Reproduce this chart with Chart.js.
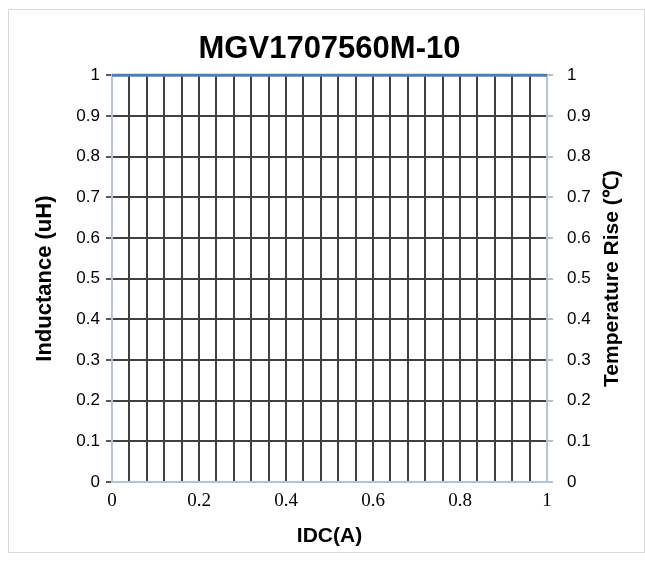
<!DOCTYPE html>
<html>
<head>
<meta charset="utf-8">
<script src="https://cdn.jsdelivr.net/npm/chart.js@4"></script>
<style>
  html, body { margin: 0; padding: 0; background: #fff; }
  #wrap { position: relative; width: 645px; height: 563px; }
</style>
</head>
<body>
<div id="wrap"><canvas id="c" width="645" height="563"></canvas></div>
<script>
// ---- data ----
const chartTitle = 'MGV1707560M-10';
const xAxisTitle = 'IDC(A)';
const leftAxisTitle = 'Inductance (uH)';
const rightAxisTitle = 'Temperature Rise (℃)';
const seriesX = [0, 1];
const seriesY = [1, 1];
const xTickLabels = ['0', '0.2', '0.4', '0.6', '0.8', '1'];
const yTickLabels = ['0', '0.1', '0.2', '0.3', '0.4', '0.5', '0.6', '0.7', '0.8', '0.9', '1'];
const xMin = 0, xMax = 1, xGridStep = 0.04, xLabelEvery = 5;
const yMin = 0, yMax = 1, yStep = 0.1;

const GRID = '#404040';
const AXIS = '#b4c4d9';
const AXIS_TITLE_FONT = { family: 'Liberation Sans', size: 21, weight: 'bold' };

const framePlugin = {
  id: 'frame',
  beforeDraw(chart) {
    const ctx = chart.ctx;
    ctx.save();
    ctx.fillStyle = '#fff';
    ctx.fillRect(0, 0, chart.width, chart.height);
    ctx.strokeStyle = '#d9d9d9';
    ctx.lineWidth = 1;
    ctx.strokeRect(8.5, 9.5, 636, 543);
    ctx.restore();
  },
  afterDraw(chart) {
    // right axis title, reading bottom-to-top like the left one
    const ctx = chart.ctx;
    const a = chart.chartArea;
    ctx.save();
    ctx.translate(612, (a.top + a.bottom) / 2);
    ctx.rotate(-Math.PI / 2);
    ctx.fillStyle = '#000';
    ctx.font = 'bold ' + AXIS_TITLE_FONT.size + 'px "' + AXIS_TITLE_FONT.family + '"';
    ctx.textAlign = 'center';
    ctx.textBaseline = 'middle';
    ctx.fillText(rightAxisTitle, 0, 0);
    ctx.restore();
  }
};

const edge = (ctx, lo, hi) => {
  const v = ctx.tick ? ctx.tick.value : null;
  if (v === null) return GRID;
  return (Math.abs(v - lo) < 1e-9 || Math.abs(v - hi) < 1e-9) ? 'rgba(0,0,0,0)' : GRID;
};

new Chart(document.getElementById('c'), {
  type: 'scatter',
  data: {
    datasets: [{
      label: 'Inductance',
      data: seriesX.map((x, i) => ({ x: x, y: seriesY[i] })),
      showLine: true,
      borderColor: '#4a7ebb',
      backgroundColor: '#4a7ebb',
      borderWidth: 3,
      pointRadius: 0,
      clip: false,
      yAxisID: 'y'
    }]
  },
  options: {
    responsive: false,
    animation: false,
    layout: { padding: 0 },
    plugins: {
      legend: { display: false },
      tooltip: { enabled: false },
      title: {
        display: true,
        fullSize: false,
        text: chartTitle,
        color: '#000',
        font: { family: 'Liberation Sans', size: 31, weight: 'bold' },
        padding: { top: 31, bottom: 7 }
      }
    },
    scales: {
      x: {
        type: 'linear',
        position: 'bottom',
        min: xMin, max: xMax,
        afterFit: s => { s.height = 81; },
        ticks: {
          stepSize: xGridStep,
          maxTicksLimit: 40,
          autoSkip: false,
          maxRotation: 0,
          padding: 8,
          color: '#000',
          font: { family: 'Liberation Serif', size: 19 },
          callback: (v, i) => (i % xLabelEvery === 0 ? xTickLabels[i / xLabelEvery] : '')
        },
        grid: {
          color: c => edge(c, xMin, xMax),
          lineWidth: 2,
          drawTicks: false
        },
        border: { color: AXIS, width: 2 },
        title: {
          display: true,
          text: xAxisTitle,
          color: '#000',
          font: AXIS_TITLE_FONT,
          padding: { top: 0, bottom: 14 }
        }
      },
      y: {
        type: 'linear',
        position: 'left',
        min: yMin, max: yMax,
        afterFit: s => { s.width = 112; },
        ticks: {
          stepSize: yStep,
          padding: 6,
          color: '#000',
          font: { family: 'Liberation Sans', size: 17 },
          callback: (v, i) => yTickLabels[i]
        },
        grid: {
          color: c => edge(c, yMin, yMax),
          lineWidth: 2,
          tickColor: '#595959',
          tickLength: 6
        },
        border: { color: AXIS, width: 2 },
        title: {
          display: true,
          text: leftAxisTitle,
          color: '#000',
          font: { family: 'Liberation Sans', size: 22, weight: 'bold' },
          padding: { top: 32, bottom: 0 }
        }
      },
      y2: {
        type: 'linear',
        position: 'right',
        display: true,
        min: yMin, max: yMax,
        afterFit: s => { s.width = 98; },
        ticks: {
          stepSize: yStep,
          padding: 14,
          color: '#000',
          font: { family: 'Liberation Sans', size: 17 },
          callback: (v, i) => yTickLabels[i]
        },
        grid: {
          drawOnChartArea: false,
          tickColor: '#bfbfbf',
          tickLength: 6,
          lineWidth: 2
        },
        border: { color: AXIS, width: 2 },
        title: { display: false }
      }
    }
  },
  plugins: [framePlugin]
});
</script>
</body>
</html>
